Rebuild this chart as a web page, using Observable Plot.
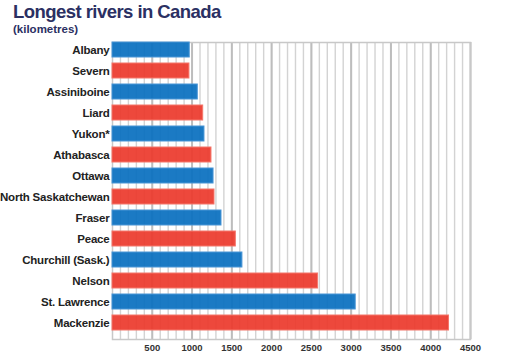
<!DOCTYPE html>
<html>
<head>
<meta charset="utf-8">
<script src="https://cdn.jsdelivr.net/npm/d3@7"></script>
<script src="https://cdn.jsdelivr.net/npm/@observablehq/plot@0.6"></script>
<style>
  html, body { margin: 0; padding: 0; background: #fff; width: 525px; height: 363px; overflow: hidden; }
  #head { height: 36px; padding-left: 13px; font-family: "Liberation Sans", Arial, sans-serif; font-weight: bold; color: #2b3063; }
  #title { font-size: 18.5px; line-height: 20px; letter-spacing: -0.55px; padding-top: 2px; }
  #sub { font-size: 11.5px; line-height: 14px; }
</style>
</head>
<body>
<div id="head"><div id="title">Longest rivers in Canada</div><div id="sub">(kilometres)</div></div>
<div id="chart"></div>
<script>
const rivers = ["Albany", "Severn", "Assiniboine", "Liard", "Yukon*", "Athabasca", "Ottawa",
  "North Saskatchewan", "Fraser", "Peace", "Churchill (Sask.)", "Nelson", "St. Lawrence", "Mackenzie"];
const lengths = [971, 967, 1072, 1140, 1156, 1244, 1270, 1282, 1370, 1550, 1633, 2584, 3057, 4230];
const xTicks = [500, 1000, 1500, 2000, 2500, 3000, 3500, 4000, 4500];
const minorGrid = d3.range(100, 4500, 100);

const data = rivers.map((r, i) => ({river: r, km: lengths[i], idx: i}));
const blue = "#0a70c0", red = "#ec3a2d";
const blueEdge = "#4a96d6", redEdge = "#f4766a";

const chart = Plot.plot({
  width: 525,
  height: 327,
  marginLeft: 112,
  marginRight: 55,
  marginTop: 6,
  marginBottom: 24,
  style: {fontFamily: "'Liberation Sans', Arial, sans-serif", background: "#fff", overflow: "visible"},
  x: {domain: [0, 4500], ticks: xTicks, tickSize: 0, tickPadding: 5, label: null, tickFormat: d => String(d)},
  y: {domain: rivers, padding: 0.29, paddingOuter: 0.19, align: 0, tickSize: 0, tickPadding: 3, label: null},
  marks: [
    Plot.ruleX(minorGrid, {stroke: "#d3d3d3", strokeWidth: 1.4}),
    Plot.ruleX(xTicks, {stroke: "#bdbdbd", strokeWidth: 2}),
    Plot.frame({stroke: "#c8c8c8", strokeWidth: 1.5}),
    Plot.barX(data, {
      y: "river", x: "km",
      fill: d => d.idx % 2 ? red : blue,
      fillOpacity: 0.93,
      stroke: d => d.idx % 2 ? redEdge : blueEdge,
      strokeWidth: 1
    })
  ]
});

d3.select(chart).selectAll("g[aria-label='y-axis tick label']")
  .attr("font-size", "11.5px").attr("font-weight", "bold").attr("fill", "#222")
  .attr("letter-spacing", "-0.2px");
d3.select(chart).selectAll("g[aria-label='x-axis tick label']")
  .attr("font-size", "9.5px").attr("font-weight", "bold").attr("fill", "#333");
document.getElementById("chart").appendChild(chart);
</script>
</body>
</html>
